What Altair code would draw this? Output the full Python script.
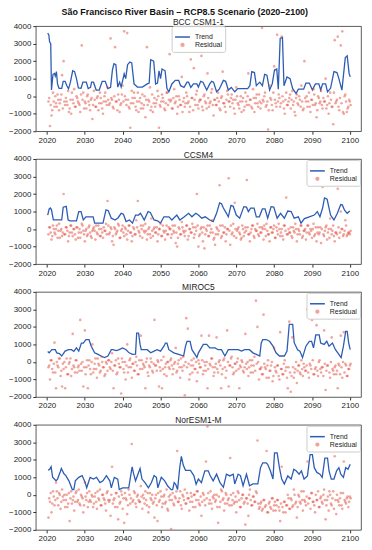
import altair as alt
import pandas as pd

TITLE = "São Francisco River Basin – RCP8.5 Scenario (2020–2100)"
MODELS = ["BCC CSM1-1", "CCSM4", "MIROC5", "NorESM1-M"]
X_TICKS = [2020, 2030, 2040, 2050, 2060, 2070, 2080, 2090, 2100]
Y_TICKS = [-2000, -1000, 0, 1000, 2000, 3000, 4000]
SERIES = ["Trend", "Residual"]

# Trend curves: (year, value)
TREND_BCC = [
    (2020.2, 3600), (2020.5, 3500), (2020.7, 3100), (2021.0, 3000), (2021.2, 350), (2021.6, 1250),
    (2022.0, 1300), (2022.2, 1150), (2022.5, 1400), (2022.8, 700), (2023.2, 450), (2023.9, 450),
    (2024.3, 850), (2024.8, 850), (2025.2, 620), (2025.7, 420), (2026.2, 800), (2026.8, 1450),
    (2027.3, 1400), (2027.8, 1000), (2028.3, 470), (2029.0, 450), (2029.5, 800), (2030.4, 800),
    (2030.9, 430), (2031.5, 500), (2031.8, 800), (2032.3, 800), (2033.0, 350), (2033.8, 350),
    (2034.6, 850), (2035.4, 850), (2036.1, 430), (2036.8, 500), (2037.3, 1500), (2037.7, 1850),
    (2038.2, 1800), (2038.7, 520), (2039.2, 800), (2039.6, 520), (2040.4, 1280), (2040.8, 1000),
    (2041.3, 1800), (2041.9, 1950), (2042.4, 1900), (2043.0, 700), (2043.9, 520), (2045.2, 520),
    (2046.5, 700), (2047.0, 750), (2047.4, 2080), (2048.2, 2000), (2048.7, 700), (2049.2, 750),
    (2049.6, 1450), (2050.0, 1000), (2050.4, 1550), (2051.2, 1450), (2051.7, 430), (2052.2, 250),
    (2053.0, 700), (2053.9, 900), (2054.8, 900), (2055.3, 600), (2056.2, 500), (2057.0, 800),
    (2057.4, 800), (2058.0, 500), (2058.7, 700), (2059.6, 700), (2060.0, 520), (2060.6, 850),
    (2061.2, 800), (2062.2, 350), (2063.0, 700), (2063.5, 850), (2064.0, 800), (2064.8, 250),
    (2065.5, 400), (2066.6, 900), (2067.2, 850), (2067.9, 350), (2068.7, 500), (2069.6, 250),
    (2070.4, 430), (2073.0, 430), (2073.6, 600), (2074.1, 1400), (2074.8, 1350), (2075.3, 600),
    (2076.2, 800), (2076.9, 600), (2077.5, 1250), (2078.1, 1200), (2078.8, 350), (2079.5, 700),
    (2080.1, 1500), (2080.7, 1550), (2081.1, 400), (2081.6, 3300), (2082.2, 3350), (2082.6, 600),
    (2083.4, 1100), (2084.2, 1000), (2084.9, 430), (2085.8, 150), (2086.4, 400), (2087.8, 400),
    (2088.4, 750), (2089.3, 750), (2090.1, 350), (2090.9, 700), (2091.8, 700), (2092.3, 350),
    (2092.8, 700), (2093.6, 700), (2094.1, 250), (2094.9, 450), (2095.8, 1400), (2096.6, 1350),
    (2097.1, 1000), (2097.9, 350), (2098.8, 2200), (2099.3, 2300), (2099.8, 1300), (2100.1, 1100),
]
TREND_CCSM4 = [
    (2020.2, 800), (2020.6, 1150), (2020.9, 1200), (2021.2, 1100), (2021.7, 520), (2023.9, 520),
    (2024.3, 1250), (2025.1, 1300), (2025.6, 520), (2026.1, 470), (2027.8, 470), (2028.4, 1000),
    (2029.0, 1000), (2029.6, 520), (2030.3, 700), (2032.2, 700), (2032.6, 340), (2034.8, 340),
    (2035.6, 1100), (2036.2, 1050), (2037.0, 620), (2038.0, 520), (2038.8, 650), (2039.6, 900),
    (2040.2, 850), (2040.9, 430), (2041.8, 520), (2042.6, 340), (2043.4, 800), (2044.2, 800),
    (2044.7, 900), (2045.7, 520), (2046.7, 1000), (2047.3, 950), (2048.3, 520), (2049.2, 470),
    (2050.0, 340), (2050.9, 700), (2052.2, 700), (2053.0, 520), (2054.3, 800), (2055.1, 520),
    (2056.3, 700), (2057.4, 900), (2058.3, 700), (2059.3, 900), (2060.0, 800), (2060.9, 620),
    (2061.8, 700), (2063.0, 520), (2063.9, 430), (2064.8, 900), (2065.6, 1500), (2066.1, 1450),
    (2066.6, 1200), (2067.4, 900), (2067.9, 700), (2068.6, 1350), (2069.2, 1300), (2070.0, 800),
    (2070.9, 620), (2072.0, 1280), (2072.7, 1250), (2073.2, 1000), (2073.8, 1200), (2074.7, 1200),
    (2075.3, 700), (2076.1, 700), (2076.9, 1150), (2077.6, 1150), (2078.3, 620), (2079.2, 1280),
    (2079.9, 1250), (2080.8, 620), (2081.7, 900), (2082.7, 620), (2083.6, 1030), (2084.5, 1000),
    (2085.3, 620), (2086.4, 700), (2087.1, 340), (2088.0, 600), (2089.3, 700), (2090.6, 800),
    (2091.4, 1000), (2092.1, 700), (2092.8, 1200), (2093.3, 1780), (2094.0, 1700), (2094.9, 800),
    (2095.8, 520), (2096.7, 900), (2097.6, 1400), (2098.0, 1380), (2098.6, 1080), (2099.3, 900),
    (2100.0, 1030),
]
TREND_MIROC5 = [
    (2020.2, 600), (2020.6, 520), (2021.3, 700), (2022.2, 700), (2022.6, 520), (2023.3, 480),
    (2023.9, 340), (2024.8, 620), (2025.7, 700), (2026.5, 700), (2027.1, 600), (2027.8, 800),
    (2028.4, 620), (2029.1, 1080), (2029.6, 1080), (2030.3, 1280), (2031.1, 1280), (2031.7, 900),
    (2032.6, 520), (2033.5, 430), (2034.3, 340), (2035.2, 250), (2036.1, 340), (2037.0, 700),
    (2037.4, 700), (2038.3, 650), (2039.1, 700), (2040.0, 800), (2040.9, 700), (2041.7, 520),
    (2042.6, 430), (2043.4, 450), (2043.7, 1650), (2044.2, 1650), (2044.6, 1000), (2044.9, 700),
    (2046.5, 700), (2047.4, 520), (2048.3, 620), (2049.1, 700), (2050.0, 620), (2050.9, 900),
    (2051.3, 1080), (2051.7, 1080), (2052.2, 700), (2053.5, 520), (2054.8, 430), (2056.1, 340),
    (2056.6, 900), (2057.0, 1180), (2057.8, 1180), (2058.3, 700), (2059.1, 430), (2059.6, 250),
    (2060.0, 520), (2061.3, 1000), (2062.2, 1000), (2063.0, 800), (2064.4, 800), (2065.2, 700),
    (2066.1, 700), (2067.0, 340), (2067.9, 700), (2070.5, 700), (2071.4, 620), (2072.2, 700),
    (2073.5, 700), (2074.4, 520), (2075.3, 430), (2076.2, 340), (2076.6, 1080), (2077.0, 1280),
    (2077.9, 1280), (2078.8, 1180), (2079.7, 900), (2080.5, 520), (2081.4, 340), (2082.7, 340),
    (2083.4, 620), (2084.0, 2150), (2084.9, 2150), (2085.3, 1100), (2086.2, 700), (2086.8, 620),
    (2087.5, 250), (2088.4, 900), (2089.3, 1180), (2089.9, 1180), (2090.4, 800), (2091.0, 1550),
    (2091.9, 1550), (2092.3, 1080), (2093.2, 1000), (2093.9, 1180), (2094.5, 900), (2095.4, 1080),
    (2096.2, 700), (2097.1, 430), (2097.7, 250), (2098.3, 900), (2098.9, 1740), (2099.3, 1740),
    (2099.7, 1080), (2100.1, 700),
]
TREND_NORESM = [
    (2020.3, 1400), (2020.7, 1450), (2021.1, 1600), (2021.5, 1000), (2022.4, 800), (2022.8, 900),
    (2023.5, 1300), (2023.8, 1500), (2024.5, 1200), (2025.0, 1100), (2025.8, 800), (2026.7, 300),
    (2027.1, 300), (2027.5, 800), (2028.4, 1000), (2029.3, 1100), (2030.1, 700), (2030.5, 400),
    (2031.4, 1000), (2032.3, 900), (2033.1, 1000), (2034.0, 700), (2034.8, 800), (2035.7, 1100),
    (2036.6, 800), (2037.0, 400), (2037.8, 1000), (2038.7, 900), (2039.1, 300), (2040.0, 400),
    (2041.6, 400), (2042.5, 1600), (2042.9, 1200), (2043.4, 800), (2044.6, 1500), (2045.1, 900),
    (2045.9, 700), (2046.8, 400), (2047.6, 700), (2048.3, 1100), (2048.9, 1000), (2049.3, 400),
    (2050.2, 1000), (2051.1, 800), (2051.9, 500), (2052.8, 300), (2053.2, 300), (2053.6, 700),
    (2054.0, 600), (2054.5, 300), (2055.1, 1600), (2055.5, 2200), (2056.0, 1700), (2056.6, 1400),
    (2057.9, 1400), (2058.8, 1100), (2059.4, 600), (2060.0, 900), (2060.8, 700), (2061.7, 1370),
    (2062.6, 1370), (2063.1, 1100), (2063.9, 800), (2064.8, 1180), (2065.7, 700), (2066.6, 430),
    (2067.4, 1180), (2068.3, 1080), (2069.2, 1180), (2069.6, 620), (2070.5, 1180), (2071.1, 1100),
    (2071.8, 520), (2072.7, 1180), (2073.5, 520), (2074.4, 620), (2075.7, 620), (2076.4, 1550),
    (2077.0, 1830), (2077.9, 1830), (2078.3, 1740), (2079.0, 1370), (2079.7, 900), (2080.1, 2400),
    (2080.8, 2400), (2081.4, 1550), (2082.0, 900), (2082.7, 620), (2083.6, 1080), (2084.5, 900),
    (2085.2, 1460), (2085.8, 1370), (2086.6, 1180), (2087.2, 1370), (2087.9, 900), (2088.8, 1080),
    (2089.5, 2300), (2090.1, 2300), (2090.6, 1550), (2091.3, 1280), (2092.1, 1180), (2092.7, 1000),
    (2093.4, 2100), (2094.1, 2100), (2094.5, 1370), (2095.1, 900), (2095.8, 900), (2096.5, 1370),
    (2097.1, 1550), (2097.6, 1180), (2098.3, 1000), (2098.9, 1550), (2099.5, 1460), (2100.1, 1740),
]

# Residuals (wide spread incl. outliers), sampled evenly from 2020.4 to 2100.0
RES_FIRST, RES_LAST = 2020.4, 2100.0
RES_BCC = [
    -300, -1700, -1100, 200, -600, -400, 100, -800, -200, 1200,
    2000, -500, -300, 300, -700, -1000, -200, 400, -600, -100,
    -400, -900, 2900, 200, -300, -700, 100, -500, -200, -1300,
    300, -600, -100, -800, 200, -400, -1000, 0, -300, 500,
    -500, 3300, -200, -700, 2800, -300, 100, -900, -400, 600,
    3700, -200, 3600, -600, -1800, 300, -400, -100, -800, 200,
    -300, -700, 100, -500, -1200, 2800, -200, 500, -600, -900,
    -100, -400, 300, -1800, -600, 100, -300, -800, 200, -500,
    2400, -200, -700, 400, -300, -1000, 0, -500, 1100, -300,
    -600, 200, -400, -900, 2100, -100, 1600, -500, 300, -700,
    -200, 2300, -800, 100, -400, 1300, -600, -300, 400, -1100,
    -200, -500, 200, -700, -100, 1400, -400, -900, 300, -300,
    -600, 100, -200, -1000, 500, -400, -700, 0, -300, -800,
    200, -500, 1300, -200, -600, 400, -900, -100, -400, 100,
    -700, 3900, -300, 200, -500, -1900, 600, -200, -800, 1700,
    -400, 3500, 100, -600, 3400, -300, -1000, 200, -500, -100,
    -700, 300, -300, -1100, 100, -500, -200, 600, -800, 2000,
    -300, -600, 200, -900, -200, 400, -500, -1200, 0, -400,
    300, -700, -300, 1000, -500, -1000, 200, -600, -1600, 3200,
    -300, 3400, -800, 2900, 3700, -1000, 100, -900, -600, -300,
]
RES_CCSM4 = [
    -300, 100, -600, 200, -200, 0, -500, 300, -100, -400,
    2000, -300, 100, -700, -200, 200, -400, 0, -600, 100,
    -200, -500, 300, -100, -700, 0, -300, 200, -400, -100,
    100, -600, -200, 200, -400, 0, -500, -100, 300, 1600,
    -300, 100, -700, -900, 0, -200, 300, -500, -100, 200,
    -400, 0, -600, 200, -200, -700, 100, -300, 500, 1600,
    -200, 200, -500, -100, 300, -600, 0, -300, 600, -400,
    100, -200, -700, 0, 300, -400, -100, -600, 200, -300,
    0, -500, 200, -200, -800, -1000, 100, -300, 400, -100,
    -400, 200, -600, 0, -200, 300, -500, 100, 2000, -1000,
    -300, 100, -700, -1100, 0, 200, -400, -200, 500, -600,
    -900, 100, -300, 2500, -500, 200, -200, -700, 0, 2900,
    -900, -300, 300, 1500, -500, 0, -200, -600, 200, -400,
    100, 2800, -300, -700, 0, 200, -500, -100, 300, -400,
    -200, 100, -600, 0, 300, -300, -700, 100, -200, 200,
    -500, -100, 300, -400, 0, -600, 200, 1800, -300, -200,
    100, -500, -100, 300, -700, 0, -300, 200, -400, -100,
    -600, 200, -200, 0, -500, 300, -300, -700, 100, -200,
    -800, 2400, -400, 100, -600, 0, 600, -300, 200, -700,
    -200, 2300, -500, 1000, 0, -300, 500, -400, -200, -300,
]
RES_MIROC5 = [
    -300, -1000, 100, -600, 1100, -1500, -200, 200, -800, -1400,
    -400, -1500, 200, -700, 0, -800, 1600, -300, 100, -600,
    -200, 2400, -500, -1400, 1800, -300, -1500, 100, -700, 1000,
    -400, 200, -900, -100, -600, 300, -300, -800, 0, -500,
    100, -400, 500, -1500, -200, -700, 200, -300, -1800, 0,
    -600, -1000, 1000, -300, 200, -900, -100, -500, 300, -700,
    100, 1500, -400, -200, -1500, 200, -800, -300, 0, -600,
    2400, -200, 100, -1400, -500, -1500, 300, -300, -800, 0,
    -400, 200, -700, -100, 800, -500, 100, -900, -300, 300,
    -1900, 2500, 1900, -1000, -200, -600, 200, -400, -1100, 100,
    -300, 1500, -700, 0, -500, -1500, 1500, -200, 200, -800,
    -300, 1400, -600, 100, -1500, -400, 200, -900, 1800, -1400,
    -200, 300, -700, -100, -500, 200, -1500, -300, 0, -600,
    1600, -400, -800, 100, -200, -600, 300, 3500, 2000, -1000,
    -400, -700, 2700, -300, -900, 100, -500, -200, -1100, 800,
    -500, -200, -800, 1700, -400, -700, 100, -300, -1500, 2300,
    -1700, 1400, -900, -400, -1200, -200, -600, 100, -800, -300,
    -500, 3000, -900, -200, 2400, -700, -400, 2100, -800, 100,
    -600, -300, 1800, -1600, -200, 2500, -900, 1400, -500, -300,
    -700, -1500, -200, 1500, -900, 1700, -100, -800, -400, -200,
]
RES_NORESM = [
    -1300, -400, -1000, 200, -600, 700, -200, 100, -800, 300,
    -300, -700, 0, -500, -1500, 200, -300, -900, 100, -400,
    300, -600, -100, -1000, 700, -300, -700, 200, -400, -100,
    -500, 100, -800, -200, 300, -600, 0, -300, -900, 200,
    -400, -1200, 1600, -300, -700, 100, -1400, -500, 200, -800,
    -1600, -200, -1100, 300, -500, 2900, -300, 100, -700, 0,
    -400, 500, -800, -200, 200, -600, -1000, 100, -300, -500,
    -1300, 0, -1500, -400, 200, -700, -100, -500, 300, -900,
    -300, -1950, 100, -600, -200, 2500, -400, 200, -800, -100,
    300, -500, -200, -900, 100, -400, 0, -700, 200, -300,
    -600, -1200, 100, -300, 1900, 3900, -500, 200, -800, -200,
    -400, 0, -1600, -700, 300, -300, -900, 100, -500, -200,
    2100, -600, 100, -400, -1000, 200, -300, -700, 0, -500,
    -1700, -200, -1200, 300, -600, -100, -400, 200, 3100, -800,
    -500, -900, -300, -700, 2500, -1000, -400, -800, -200, -600,
    -900, -300, -700, -1500, 1600, -1000, -400, -600, 0, -800,
    -200, -700, 300, -500, -1300, 0, -400, 200, -900, -300,
    -600, 1900, -200, -800, 100, -400, -1000, -300, 200, -700,
    -100, -500, 300, -1400, -300, -900, 0, -600, 200, 2200,
    -1100, -300, -600, 100, -800, 1900, -400, -200, -700, -100,
]

# Residuals of the dense core band, sampled evenly from 2020.6 to 2100.2
CORE_FIRST, CORE_LAST = 2020.6, 2100.2
CORE_BCC = [
    -100, -500, -800, -300, 0, -600, -200, -400, 100, -700,
    -300, -100, -500, -900, -200, 200, -400, -600, 0, -300,
    -500, 100, -200, -700, -400, 0, -300, -800, -100, -500,
    -200, -600, 0, -400, -100, -700, -300, 200, -500, -200,
    -400, -100, -600, 0, -300, -800, -200, -500, 100, -300,
    0, -500, -200, -700, -400, -100, 200, -600, -300, -900,
    -100, -400, -700, 0, -200, -500, -300, -800, 100, -400,
    -600, -200, 0, -500, -300, -100, -700, -400, 200, -200,
    -300, -700, -100, -400, 0, -600, -200, -500, -900, -100,
    -400, 0, -300, -600, -100, -800, -200, 100, -500, -300,
    -200, -600, 0, -300, -700, -100, -400, 200, -500, -200,
    -500, -100, -300, -800, 0, -400, -600, -200, 100, -300,
    -100, -400, -700, -200, 0, -500, -300, -900, -100, -600,
    -300, 0, -500, -200, -700, -100, -400, 100, -600, -300,
    -400, -200, 0, -600, -300, -800, -100, -500, 200, -200,
    -600, -300, -100, -400, 0, -700, -200, -500, -300, 100,
    -200, -500, -900, -100, -400, 0, -600, -300, -700, -100,
    0, -300, -600, -200, -500, 100, -400, -800, -100, -300,
    -500, -100, -300, -700, 0, -400, -200, -600, 200, -400,
    -200, -600, -100, -400, -900, 0, -300, -700, -200, -500,
]
CORE_CCSM4 = [
    100, -200, -400, 0, -300, 200, -100, -500, 0, -200,
    -300, 100, -100, -400, 200, -200, 0, -300, 100, -500,
    0, -200, 200, -300, -100, -400, 100, -200, -500, 0,
    -100, 200, -300, 0, -400, -200, 100, -100, -300, 200,
    -200, 0, -400, 100, -300, -100, 200, -500, 0, -200,
    100, -300, -100, 200, -200, -400, 0, -300, 100, -100,
    -400, 0, 200, -200, -100, -300, 100, -500, -100, 0,
    -200, 100, -300, 0, -400, 200, -200, -100, -300, 100,
    0, -300, -100, 200, -200, -500, 0, -300, 100, -200,
    -100, 200, -400, 0, -200, 100, -300, -100, 200, -400,
    0, -200, 100, -300, -100, -400, 200, 0, -200, -500,
    -300, 0, -100, 200, -400, -200, 100, -300, 0, -100,
    200, -200, -400, 0, -100, 100, -300, -500, 0, -200,
    -100, 100, -300, -200, 200, -400, 0, -100, -300, 100,
    -200, 0, 200, -400, -100, -300, 100, -200, 0, -500,
    100, -300, 0, -200, -400, 200, -100, -300, 0, -200,
    -400, 100, -200, 0, -300, -100, 200, -500, -100, 0,
    -200, 200, -300, -100, 0, -400, 100, -200, -300, 100,
    0, -300, -100, 200, -200, -500, 0, -100, -400, -200,
    -300, 100, -200, 0, -400, -100, 200, -300, -200, -100,
]
CORE_MIROC5 = [
    -200, 100, -400, -100, -600, 0, -300, 200, -500, -100,
    0, -300, -700, -100, 200, -400, -200, -600, 100, -300,
    -500, -100, 0, -300, -700, 100, -200, -400, 0, -600,
    -100, -400, 200, -200, -500, 0, -300, -700, -100, 100,
    -300, 0, -500, -200, 100, -600, -100, -300, 200, -400,
    0, -200, -600, 100, -300, -100, -500, 0, -200, -700,
    -400, 100, -100, -300, 0, -600, -200, 200, -500, -100,
    -200, -500, 0, -300, 100, -400, -700, -100, 0, -300,
    100, -200, -400, 0, -600, -100, -300, 200, -500, -200,
    0, -300, -100, -700, 100, -200, -400, 0, -600, -100,
    -300, 100, -500, -200, 0, -400, -100, 200, -300, -600,
    -100, -400, 0, -200, -700, 100, -300, -500, 0, -200,
    200, -300, -600, -100, 0, -400, -200, 100, -500, -300,
    -100, 0, -300, -600, 100, -200, -500, -100, 0, -400,
    -300, -700, -100, -400, -200, -900, -500, 0, -800, -300,
    -600, -200, -1000, -400, -700, -100, -500, -900, -300, -600,
    -800, -300, -600, 0, -500, -200, -700, -400, -100, -500,
    -200, -600, -100, -400, 100, -700, -300, -500, 0, -400,
    -300, -800, -100, -500, -200, -600, 0, -400, -700, -200,
    -500, -100, -700, -300, 0, -600, -200, -800, -400, -100,
]
CORE_NORESM = [
    -200, 100, -500, -100, -300, 200, -600, 0, -400, -100,
    0, -300, -700, 100, -200, -500, -100, -400, 200, -300,
    -500, 0, -200, -600, -100, 100, -400, -300, 0, -700,
    -100, -400, 200, -300, -600, 0, -200, -500, 100, -300,
    -300, 0, -500, -200, 100, -700, -100, -400, 0, -200,
    100, -300, -600, 0, -200, -400, 200, -500, -100, -300,
    -400, -100, 0, -500, -300, 100, -700, -200, 0, -400,
    -200, -600, 100, -300, -100, -500, 0, -400, -800, -100,
    0, -300, -500, -100, 200, -400, -200, -600, 0, -300,
    -500, 100, -200, -400, -100, -700, 0, -300, 200, -500,
    -100, -400, 0, -600, -200, 100, -300, -500, -100, 0,
    -300, -700, -100, -400, 200, -200, -500, 0, -300, -600,
    0, -300, -500, -100, -400, 100, -700, -200, 0, -400,
    -200, -500, 0, -300, -600, -100, -400, 100, -500, -700,
    -400, -800, -300, -600, -1000, -500, -700, -200, -900, -400,
    -600, -300, -900, -500, -700, -400, -1000, -600, -200, -800,
    -300, -600, 0, -400, -700, -100, -500, -300, 200, -400,
    -100, -500, -200, 100, -400, -600, 0, -300, -700, -200,
    -400, 0, -300, -600, -100, 200, -500, -200, -800, -300,
    0, -400, -200, -600, 100, -300, -500, -100, -400, -200,
]

TRENDS = [TREND_BCC, TREND_CCSM4, TREND_MIROC5, TREND_NORESM]
RESIDUALS = [RES_BCC, RES_CCSM4, RES_MIROC5, RES_NORESM]
CORES = [CORE_BCC, CORE_CCSM4, CORE_MIROC5, CORE_NORESM]

BLUE = "#2c5cb4"
RED = "#dd3b2c"
LEGEND_RED = "#f0a49a"
FONT = "Liberation Sans"

X_DOMAIN = [2017.05, 2102.95]


def even_years(first, last, n):
    step = (last - first) / (n - 1)
    return [first + i * step for i in range(n)]


def panel(idx):
    name = MODELS[idx]
    tdf = pd.DataFrame(TRENDS[idx], columns=["year", "value"])
    res = RESIDUALS[idx]
    core = CORES[idx]
    rdf = pd.DataFrame({
        "year": even_years(RES_FIRST, RES_LAST, len(res)) + even_years(CORE_FIRST, CORE_LAST, len(core)),
        "value": res + core,
    })
    ldf = pd.DataFrame({"series": SERIES})

    x = alt.X("year:Q", scale=alt.Scale(domain=X_DOMAIN, nice=False, zero=False),
              axis=alt.Axis(values=X_TICKS, format="d", title=None))
    y = alt.Y("value:Q", scale=alt.Scale(domain=[-2000, 4000], nice=False, zero=False),
              axis=alt.Axis(values=Y_TICKS, format="d", title=None))

    if idx == 0:
        leg = alt.Legend(title=None, orient="none", legendX=137, legendY=0, symbolOpacity=1)
    else:
        leg = alt.Legend(title=None, orient="top-right", offset=1, symbolOpacity=1)

    line = alt.Chart(tdf).mark_line(color=BLUE, strokeWidth=1.3, clip=True).encode(x=x, y=y)
    pts = alt.Chart(rdf).mark_circle(size=7, color=RED, opacity=0.45, clip=True).encode(x=x, y=y)
    legend_layer = alt.Chart(ldf).mark_point(opacity=0, filled=True).encode(
        fill=alt.Fill("series:N", scale=alt.Scale(domain=SERIES, range=[BLUE, LEGEND_RED]), legend=leg),
        stroke=alt.Stroke("series:N", scale=alt.Scale(domain=SERIES, range=[BLUE, LEGEND_RED]), legend=leg),
        shape=alt.Shape("series:N", scale=alt.Scale(domain=SERIES, range=["stroke", "circle"]), legend=leg),
        size=alt.Size("series:N", scale=alt.Scale(type="point", domain=SERIES, range=[225, 8], padding=0), legend=leg),
    )
    return alt.layer(line, pts, legend_layer).properties(
        width=328, height=106,
        title=alt.TitleParams(name, fontSize=8.5, fontWeight="normal", font=FONT, offset=-4, color="#222"),
    )


chart = alt.vconcat(
    *[panel(i) for i in range(4)],
    spacing=5,
    title=alt.TitleParams(TITLE, fontSize=9, fontWeight="bold", font=FONT, anchor="middle",
                          offset=0, color="#111"),
).properties(
    padding={"left": 0, "top": -2, "right": 2, "bottom": 0}
).resolve_scale(
    fill="independent", stroke="independent", shape="independent", size="independent"
).configure_view(
    stroke="#333", strokeWidth=0.8
).configure_axis(
    domain=False, grid=False, tickColor="#333", tickSize=3, labelFontSize=8, labelFont=FONT,
    labelColor="#222", labelPadding=2,
).configure_legend(
    labelFontSize=7, labelFont=FONT, labelColor="#222", fillColor="white", strokeColor="#cccccc",
    padding=2.5, cornerRadius=2, rowPadding=0, labelOffset=4, symbolStrokeWidth=1.5,
)

chart.save("out.html", embed_options={"renderer": "svg", "actions": False})
